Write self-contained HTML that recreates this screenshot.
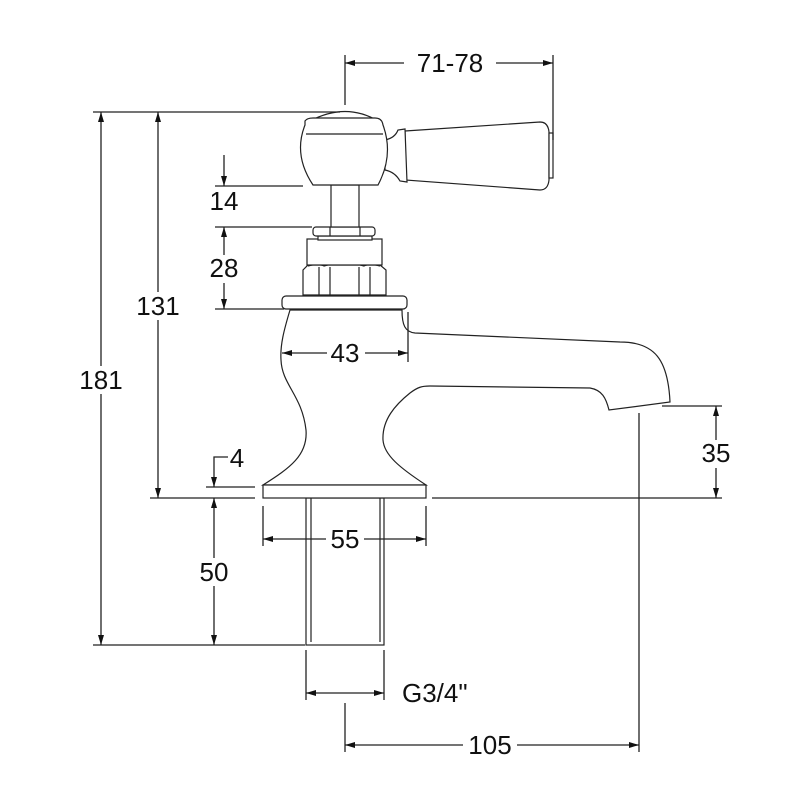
<!DOCTYPE html>
<html><head><meta charset="utf-8"><style>
html,body{margin:0;padding:0;background:#fff}
svg{display:block}
text{font-family:"Liberation Sans",sans-serif;font-size:26px;fill:#111}
</style></head><body>
<svg width="800" height="800" viewBox="0 0 800 800" xmlns="http://www.w3.org/2000/svg">
<defs>
<marker id="a" viewBox="0 0 10 6" refX="10" refY="3" markerWidth="10" markerHeight="6" orient="auto-start-reverse" markerUnits="userSpaceOnUse"><path d="M0,0 L10,3 L0,6 z" fill="#111"/></marker>
</defs>
<!-- tap -->
<g fill="#fff" stroke="#222" stroke-width="1.2">
<rect x="306" y="498" width="78" height="147"/>
<line x1="311" y1="498" x2="311" y2="642"/><line x1="380" y1="498" x2="380" y2="642"/>
<path d="M290,310 C284,330 280,345 281,360 C282,385 302,395 306,430 C308,455 290,468 263,485 L426,485 C400,468 384,455 383,440 C382,420 395,405 410,393 C418,387 422,386 430,386 L590,388 C602,390 606,398 609,410 L670,402 C668,360 655,342 620,342 L415,333 C405,332 402,325 402,310 Z"/>
<rect x="263" y="485" width="163" height="13"/>
<rect x="282" y="296" width="125" height="13" rx="4"/>
<path d="M303,295 L303,270 L308,265 L380,265 L386,270 L386,295 Z"/>
<line x1="319" y1="267" x2="319" y2="295"/><line x1="330" y1="267" x2="330" y2="295"/>
<line x1="359" y1="267" x2="359" y2="295"/><line x1="370" y1="267" x2="370" y2="295"/>
<path d="M308,266 Q318,263 324,266 Q344,260 364,266 Q370,263 380,266" fill="none"/>
<rect x="307" y="239" width="75" height="26"/>
<rect x="318" y="236" width="54" height="4"/>
<rect x="313" y="227" width="62" height="9" rx="3"/>
<rect x="331" y="185" width="28" height="42"/>
<line x1="330" y1="227" x2="330" y2="236"/><line x1="360" y1="227" x2="360" y2="236"/>
<path d="M405,131 L540,122 Q548,122 549,132 L549,180 Q548,190 540,190 L405,180 Z"/>
<rect x="549" y="133" width="4" height="45"/>
<path d="M385,140 Q395,138 398,130 L405,129 L407,182 L400,181 Q395,172 385,170 Z"/>
<path d="M310,121 Q346,102 378,121 Z"/>
<path d="M305,121 Q307,118 313,118 L375,118 Q382,118 383,125 Q394,155 378,185 L313,185 Q293,155 305,125 Z"/>
<line x1="306" y1="134" x2="383" y2="134"/>
</g>
<g fill="none" stroke="#222" stroke-width="1.3">
<line x1="93" y1="112" x2="340" y2="112"/>
<line x1="93" y1="645" x2="305" y2="645"/>
<line x1="345" y1="55" x2="345" y2="105"/>
<line x1="553" y1="55" x2="553" y2="140"/>
<line x1="215" y1="186" x2="303" y2="186"/>
<line x1="215" y1="227" x2="312" y2="227"/>
<line x1="215" y1="309" x2="284" y2="309"/>
<line x1="206" y1="487" x2="255" y2="487"/>
<line x1="150" y1="498" x2="255" y2="498"/>
<line x1="432" y1="498" x2="722" y2="498"/>
<line x1="662" y1="406" x2="722" y2="406"/>
<line x1="408" y1="312" x2="408" y2="362"/>
<line x1="263" y1="506" x2="263" y2="546"/>
<line x1="426" y1="506" x2="426" y2="546"/>
<line x1="306" y1="650" x2="306" y2="700"/>
<line x1="384" y1="650" x2="384" y2="700"/>
<line x1="345" y1="703" x2="345" y2="752"/>
<line x1="639" y1="413" x2="639" y2="752"/>
<line x1="345" y1="63" x2="553" y2="63" marker-start="url(#a)" marker-end="url(#a)"/>
<line x1="101" y1="112" x2="101" y2="645" marker-start="url(#a)" marker-end="url(#a)"/>
<line x1="158" y1="112" x2="158" y2="498" marker-start="url(#a)" marker-end="url(#a)"/>
<line x1="224" y1="155" x2="224" y2="186" marker-end="url(#a)"/>
<line x1="224" y1="227" x2="224" y2="309" marker-start="url(#a)" marker-end="url(#a)"/>
<line x1="282" y1="353" x2="408" y2="353" marker-start="url(#a)" marker-end="url(#a)"/>
<polyline points="228,457 214,457 214,487" marker-end="url(#a)"/>
<line x1="214" y1="498" x2="214" y2="645" marker-start="url(#a)" marker-end="url(#a)"/>
<line x1="263" y1="539" x2="426" y2="539" marker-start="url(#a)" marker-end="url(#a)"/>
<line x1="716" y1="406" x2="716" y2="498" marker-start="url(#a)" marker-end="url(#a)"/>
<line x1="306" y1="693" x2="384" y2="693" marker-start="url(#a)" marker-end="url(#a)"/>
<line x1="345" y1="745" x2="639" y2="745" marker-start="url(#a)" marker-end="url(#a)"/>
</g>
<g>
<rect x="404" y="50" width="92" height="26" fill="#fff"/>
<text x="450" y="72" text-anchor="middle">71-78</text>
<rect x="76" y="366" width="50" height="28" fill="#fff"/>
<text x="101" y="389" text-anchor="middle">181</text>
<rect x="132" y="292" width="52" height="28" fill="#fff"/>
<text x="158" y="315" text-anchor="middle">131</text>
<text x="224" y="210" text-anchor="middle">14</text>
<rect x="206" y="255" width="38" height="28" fill="#fff"/>
<text x="224" y="277" text-anchor="middle">28</text>
<rect x="327" y="340" width="38" height="26" fill="#fff"/>
<text x="345" y="362" text-anchor="middle">43</text>
<text x="237" y="467" text-anchor="middle">4</text>
<rect x="196" y="558" width="38" height="28" fill="#fff"/>
<text x="214" y="581" text-anchor="middle">50</text>
<rect x="326" y="526" width="38" height="26" fill="#fff"/>
<text x="345" y="548" text-anchor="middle">55</text>
<rect x="697" y="440" width="38" height="28" fill="#fff"/>
<text x="716" y="462" text-anchor="middle">35</text>
<text x="402" y="702">G3/4"</text>
<rect x="463" y="732" width="54" height="26" fill="#fff"/>
<text x="490" y="754" text-anchor="middle">105</text>
</g>
</svg>
</body></html>
